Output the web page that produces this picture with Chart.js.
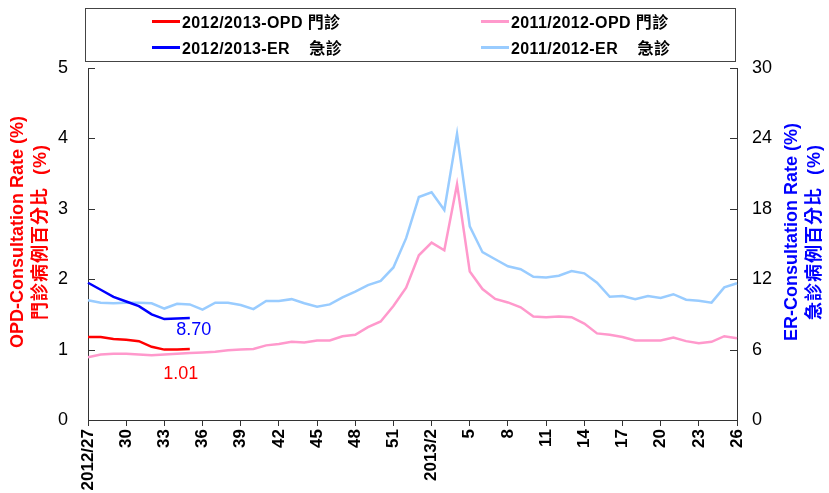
<!DOCTYPE html>
<html>
<head>
<meta charset="utf-8">
<script src="https://cdn.jsdelivr.net/npm/chart.js@4.4.0/dist/chart.umd.min.js"></script>
<style>
  html, body { margin: 0; padding: 0; background: #fff; overflow: hidden; }
  #wrap { position: relative; width: 829px; height: 493px; }
  #legend {
    position: absolute; left: 85px; top: 8px; width: 651px; height: 54px;
    border: 1px solid #444; box-sizing: border-box;
    font: bold 16px "Liberation Sans", Arial, "Noto Sans CJK TC", sans-serif;
    letter-spacing: 0.4px;
    color: #000;
  }
  .item { position: absolute; display: flex; align-items: center; white-space: pre; height: 18px; margin-top: -9px; }
  .swatch { width: 28px; height: 3px; margin-right: 2px; }
</style>
</head>
<body>
<div id="wrap">
  <canvas id="chart"></canvas>
  <div id="legend"></div>
</div>
<script>
// weeks on the x axis (2012 week 27 .. 2013 week 26)
const weeks = [
  '2012/27', '2012/28', '2012/29', '2012/30', '2012/31', '2012/32', '2012/33', '2012/34',
  '2012/35', '2012/36', '2012/37', '2012/38', '2012/39', '2012/40', '2012/41', '2012/42',
  '2012/43', '2012/44', '2012/45', '2012/46', '2012/47', '2012/48', '2012/49', '2012/50',
  '2012/51', '2012/52', '2013/1', '2013/2', '2013/3', '2013/4', '2013/5', '2013/6',
  '2013/7', '2013/8', '2013/9', '2013/10', '2013/11', '2013/12', '2013/13', '2013/14',
  '2013/15', '2013/16', '2013/17', '2013/18', '2013/19', '2013/20', '2013/21', '2013/22',
  '2013/23', '2013/24', '2013/25', '2013/26'
];
// every third week is labelled
const xTickLabels = ['2012/27', '30', '33', '36', '39', '42', '45', '48', '51',
  '2013/2', '5', '8', '11', '14', '17', '20', '23', '26'];

const opd1213 = [1.18, 1.18, 1.15, 1.14, 1.12, 1.04, 1.00, 1.00, 1.01];
const er1213 = [11.7, 11.1, 10.5, 10.1, 9.7, 9.0, 8.6, 8.65, 8.70];

const opd1112 = [0.89, 0.93, 0.94, 0.94, 0.93, 0.92, 0.93, 0.94, 0.95, 0.96, 0.97, 0.99, 1.00,
  1.01, 1.06, 1.08, 1.11, 1.10, 1.13, 1.13, 1.19, 1.21, 1.32, 1.40, 1.62, 1.88,
  2.34, 2.52, 2.41, 3.35, 2.11, 1.86, 1.72, 1.67, 1.60, 1.47, 1.46, 1.47, 1.46,
  1.37, 1.23, 1.21, 1.18, 1.13, 1.13, 1.13, 1.17, 1.12, 1.09, 1.11, 1.19, 1.16];
const er1112 = [10.2, 10.0, 9.95, 10.0, 10.0, 9.95, 9.5, 9.9, 9.85, 9.4, 10.0, 10.0, 9.8,
  9.45, 10.15, 10.15, 10.3, 9.95, 9.66, 9.85, 10.45, 10.95, 11.5, 11.85, 13.0, 15.5,
  19.0, 19.4, 17.9, 24.4, 16.5, 14.3, 13.7, 13.1, 12.85, 12.2, 12.15, 12.3, 12.7,
  12.5, 11.7, 10.5, 10.57, 10.29, 10.57, 10.4, 10.72, 10.25, 10.17, 10.0, 11.3, 11.65];

const seriesLabels = ['2012/2013-OPD 門診', '2012/2013-ER    急診', '2011/2012-OPD 門診', '2011/2012-ER    急診'];
const seriesColors = ['#FF0000', '#0000FF', '#FF99CC', '#99CCFF'];

const leftTitle = ['OPD-Consultation Rate (%)', '門診病例百分比  (%)'];
const rightTitle = ['ER-Consultation Rate (%)', '急診病例百分比  (%)'];

const FONT = '"Liberation Sans", Arial, "Noto Sans CJK TC", sans-serif';

const decorations = {
  id: 'decorations',
  afterDraw(chart) {
    const { ctx, chartArea: a, scales } = chart;
    ctx.save();
    // short tick marks pointing into the plot
    ctx.strokeStyle = '#333';
    ctx.lineWidth = 1;
    scales.y.ticks.forEach(t => {
      const py = Math.round(scales.y.getPixelForValue(t.value)) + 0.5;
      ctx.beginPath(); ctx.moveTo(a.left, py); ctx.lineTo(a.left + 7, py); ctx.stroke();
    });
    scales.y1.ticks.forEach(t => {
      const py = Math.round(scales.y1.getPixelForValue(t.value)) + 0.5;
      ctx.beginPath(); ctx.moveTo(a.right, py); ctx.lineTo(a.right - 7, py); ctx.stroke();
    });

    // axis titles, both read bottom to top
    const yc = (a.top + a.bottom) / 2 - 12;
    const drawTitle = (lines, xs, color) => {
      ctx.fillStyle = color;
      ctx.textAlign = 'center';
      ctx.textBaseline = 'middle';
      lines.forEach((txt, i) => {
        ctx.save();
        ctx.translate(xs[i], yc);
        ctx.rotate(-Math.PI / 2);
        ctx.font = 'bold 18px ' + FONT;
        ctx.letterSpacing = i === 1 ? '1px' : '0px';
        ctx.fillText(txt, 0, 0);
        ctx.restore();
      });
    };
    drawTitle(leftTitle, [18, 41], '#FF0000');
    drawTitle(rightTitle, [792, 815], '#0000FF');

    // value labels at the end of this season's lines
    ctx.font = '18px ' + FONT;
    ctx.textAlign = 'center';
    ctx.textBaseline = 'middle';
    const lastER = er1213.length - 1;
    ctx.fillStyle = '#0000FF';
    ctx.fillText(er1213[lastER].toFixed(2),
      scales.x.getPixelForValue(lastER) + 4, scales.y1.getPixelForValue(er1213[lastER]) + 12);
    const lastOPD = opd1213.length - 1;
    ctx.fillStyle = '#FF0000';
    ctx.fillText(opd1213[lastOPD].toFixed(2),
      scales.x.getPixelForValue(lastOPD) - 9, scales.y.getPixelForValue(opd1213[lastOPD]) + 25);
    ctx.restore();
  }
};

const makeSet = (i, data, axis) => ({
  label: seriesLabels[i],
  data: data,
  yAxisID: axis,
  borderColor: seriesColors[i],
  backgroundColor: seriesColors[i],
  borderWidth: 2.5,
  pointRadius: 0,
  tension: 0,
  fill: false
});

const chart = new Chart(document.getElementById('chart'), {
  type: 'line',
  data: {
    labels: weeks,
    datasets: [
      makeSet(0, opd1213, 'y'),
      makeSet(1, er1213, 'y1'),
      makeSet(2, opd1112, 'y'),
      makeSet(3, er1112, 'y1')
    ]
  },
  options: {
    responsive: true,
    maintainAspectRatio: false,
    animation: false,
    layout: { padding: { top: 68, left: 0, right: 0, bottom: 0 } },
    plugins: {
      legend: { display: false },
      tooltip: { enabled: false }
    },
    scales: {
      x: {
        offset: false,
        afterFit: s => { s.height = 73; },
        grid: {
          drawOnChartArea: false,
          tickLength: 6,
          color: c => (c.index % 3 === 0 ? '#333' : 'rgba(0,0,0,0)')
        },
        border: { display: true, color: '#333', width: 1 },
        ticks: {
          autoSkip: false,
          maxRotation: 90,
          minRotation: 90,
          padding: 3,
          color: '#000',
          font: { family: FONT, size: 17, weight: 'bold' },
          callback: (v, i) => (i % 3 === 0 ? xTickLabels[i / 3] : '')
        }
      },
      y: {
        position: 'left',
        min: 0, max: 5,
        afterFit: s => { s.width = 88; },
        grid: { display: false, drawTicks: false },
        border: { display: true, color: '#333', width: 1 },
        ticks: {
          stepSize: 1,
          padding: 20,
          color: '#000',
          font: { family: FONT, size: 18 }
        }
      },
      y1: {
        position: 'right',
        min: 0, max: 30,
        afterFit: s => { s.width = 92; },
        grid: { display: false, drawTicks: false },
        border: { display: true, color: '#333', width: 1 },
        ticks: {
          stepSize: 6,
          padding: 15,
          color: '#000',
          font: { family: FONT, size: 18 }
        }
      }
    }
  },
  plugins: [decorations]
});

// legend box: two columns, this season on the left
const legendEl = document.getElementById('legend');
const legendPos = [[0, 66, 12], [2, 395, 12], [1, 66, 38], [3, 395, 38]];
legendPos.forEach(([idx, left, top]) => {
  const ds = chart.data.datasets[idx];
  const item = document.createElement('div');
  item.className = 'item';
  item.style.left = left + 'px';
  item.style.top = top + 'px';
  const sw = document.createElement('span');
  sw.className = 'swatch';
  sw.style.background = ds.borderColor;
  const txt = document.createElement('span');
  txt.textContent = ds.label;
  item.appendChild(sw);
  item.appendChild(txt);
  legendEl.appendChild(item);
});
</script>
</body>
</html>
